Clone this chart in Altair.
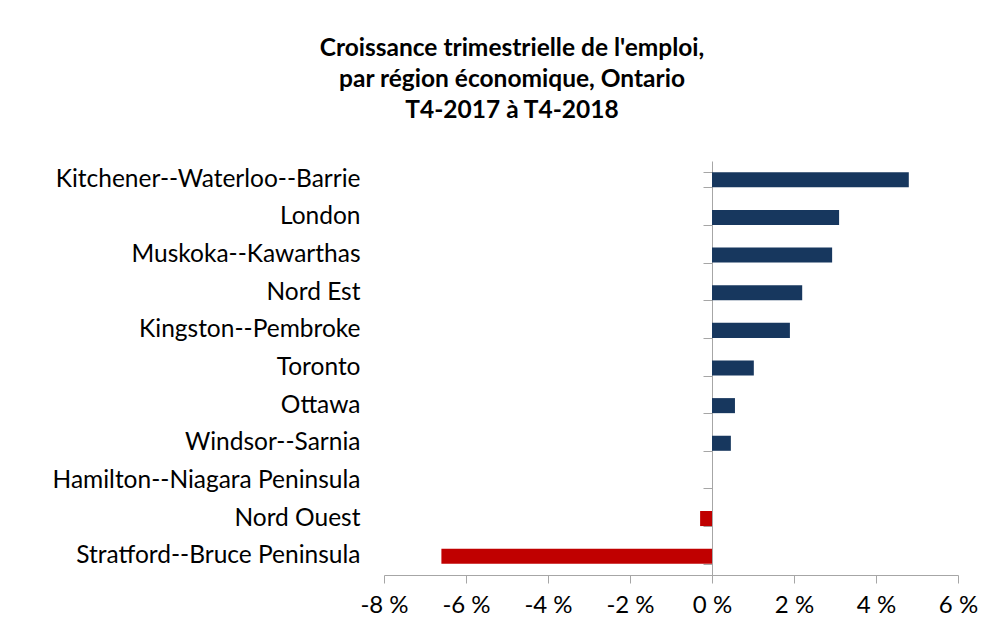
import altair as alt
import pandas as pd

regions = [
    "Kitchener--Waterloo--Barrie",
    "London",
    "Muskoka--Kawarthas",
    "Nord Est",
    "Kingston--Pembroke",
    "Toronto",
    "Ottawa",
    "Windsor--Sarnia",
    "Hamilton--Niagara Peninsula",
    "Nord Ouest",
    "Stratford--Bruce Peninsula",
]
growth = [4.8, 3.1, 2.93, 2.2, 1.9, 1.02, 0.56, 0.46, 0.0, -0.29, -6.6]
x_ticks = [-8, -6, -4, -2, 0, 2, 4, 6]
title_lines = [
    "Croissance trimestrielle de l'emploi,",
    "par région économique, Ontario",
    "T4-2017 à T4-2018",
]

df = pd.DataFrame({"region": regions, "growth": growth})

FONT = "Lato"
GRAY = "#a6a6a6"

x_enc = alt.X(
    "growth:Q",
    scale=alt.Scale(domain=[-8, 6], nice=False),
    axis=alt.Axis(
        values=x_ticks,
        labelExpr="datum.value + ' %'",
        labelFlush=False,
        grid=False,
        title=None,
        domainColor=GRAY,
        tickColor=GRAY,
        tickSize=8,
        labelFontSize=24,
        labelFont=FONT,
        labelColor="black",
        labelPadding=10,
    ),
)

y_scale = alt.Scale(paddingInner=0.6, paddingOuter=0.3)

bars = alt.Chart(df).mark_bar().encode(
    x=x_enc,
    y=alt.Y(
        "region:N",
        sort=regions,
        scale=y_scale,
        axis=alt.Axis(
            title=None,
            domain=False,
            ticks=False,
            labelPadding=24,
            labelFontSize=24.5,
            labelFont=FONT,
            labelColor="black",
            labelLimit=500,
        ),
    ),
    color=alt.condition(
        alt.datum.growth < 0, alt.value("#C00000"), alt.value("#17375E")
    ),
)

zero_axis = alt.Chart(df).mark_bar(opacity=0).encode(
    x=x_enc,
    y=alt.Y(
        "region:N",
        sort=regions,
        scale=y_scale,
        axis=alt.Axis(
            title=None,
            orient="left",
            labels=False,
            domain=True,
            domainColor=GRAY,
            ticks=True,
            tickBand="extent",
            tickSize=9,
            tickColor=GRAY,
            offset=-328,
        ),
    ),
)

chart = (
    alt.layer(bars, zero_axis)
    .resolve_axis(y="independent")
    .properties(
        width=574,
        height=414,
        autosize=alt.AutoSizeParams(type="none"),
        padding={"left": 376, "top": 153, "right": 40, "bottom": 54},
        title=alt.TitleParams(
            text=title_lines,
            font=FONT,
            fontSize=24.5,
            fontWeight="bold",
            color="black",
            anchor="middle",
            dx=-159,
            offset=38,
            lineHeight=31,
        ),
        background="white",
    )
    .configure_view(strokeWidth=0)
)

chart.save("out.html", embed_options={"renderer": "svg", "actions": False})
